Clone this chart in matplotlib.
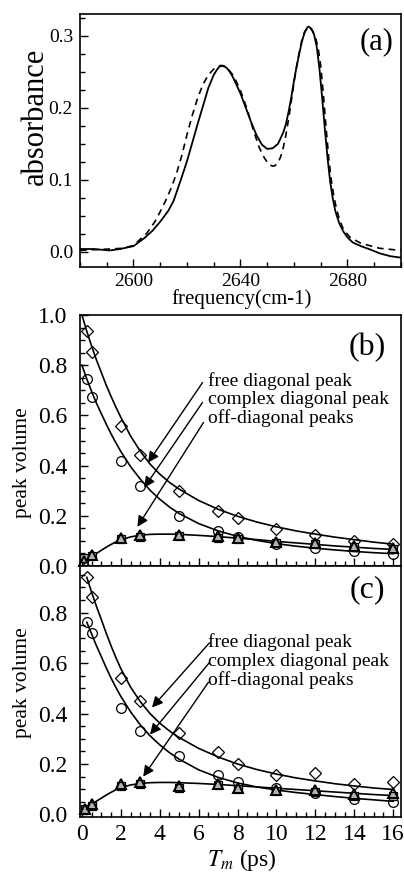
import matplotlib
matplotlib.use("Agg")
import matplotlib.pyplot as plt
from matplotlib.ticker import MultipleLocator

plt.rcParams['font.family'] = ['Liberation Serif', 'DejaVu Serif']
plt.rcParams['mathtext.fontset'] = 'stix'

# ---------------- panel (a): spectra ----------------
freq_solid = [2580, 2585, 2591, 2595, 2600, 2604, 2607, 2610, 2613, 2615, 2617.5, 2620, 2622, 2624,
              2626, 2628, 2630, 2631, 2632, 2633, 2634, 2635, 2636, 2637, 2638, 2640, 2642, 2644,
              2646, 2648, 2650, 2652, 2654, 2656, 2657, 2658, 2659, 2660, 2661, 2662, 2663, 2664,
              2665, 2665.5, 2666.5, 2667.5, 2668.5, 2669.5, 2670.5, 2671.5, 2672.5, 2673.5, 2674.5,
              2675.5, 2677, 2678.5, 2680, 2682, 2685, 2688, 2692, 2696, 2700]
abs_solid = [0.004, 0.004, 0.002, 0.004, 0.008, 0.019, 0.029, 0.042, 0.057, 0.071, 0.098, 0.126,
             0.152, 0.178, 0.203, 0.228, 0.246, 0.252, 0.257, 0.259, 0.258, 0.255, 0.250, 0.244,
             0.236, 0.220, 0.200, 0.180, 0.162, 0.149, 0.143, 0.144, 0.150, 0.166, 0.178, 0.195,
             0.215, 0.238, 0.258, 0.276, 0.293, 0.305, 0.312, 0.313, 0.310, 0.302, 0.285, 0.255,
             0.215, 0.172, 0.132, 0.098, 0.074, 0.056, 0.039, 0.028, 0.020, 0.013, 0.008, 0.004,
             -0.002, -0.006, -0.008]
freq_dash = [2580, 2585, 2591, 2596, 2600, 2605, 2608, 2610, 2612, 2614, 2616, 2618, 2620, 2622,
             2624, 2626, 2628, 2630, 2632.5, 2635, 2637.5, 2640, 2642.5, 2645, 2647, 2649, 2650.5,
             2652, 2653, 2654, 2655, 2656, 2657, 2658, 2659, 2660, 2661, 2662, 2663, 2664, 2665.5,
             2667, 2668, 2669, 2670, 2671, 2672, 2673, 2674, 2675, 2676, 2677, 2678.5, 2681, 2685,
             2692, 2700]
abs_dash = [0.002, 0.003, 0.004, 0.005, 0.009, 0.026, 0.042, 0.056, 0.071, 0.088, 0.108, 0.133,
            0.163, 0.190, 0.214, 0.233, 0.246, 0.254, 0.259, 0.256, 0.244, 0.224, 0.198, 0.167,
            0.145, 0.130, 0.122, 0.119, 0.120, 0.124, 0.132, 0.145, 0.163, 0.185, 0.210, 0.235,
            0.258, 0.278, 0.295, 0.306, 0.313, 0.307, 0.298, 0.284, 0.258, 0.218, 0.172, 0.130,
            0.098, 0.075, 0.058, 0.045, 0.031, 0.020, 0.012, 0.005, 0.002]

# ---------------- panel (b) ----------------
t_main = [0.25, 0.5, 2, 3, 5, 7, 8, 10, 12, 14, 16]
b_free = [0.937, 0.853, 0.557, 0.441, 0.297, 0.220, 0.191, 0.148, 0.125, 0.100, 0.088]
b_complex = [0.747, 0.673, 0.420, 0.317, 0.200, 0.140, 0.117, 0.087, 0.072, 0.058, 0.048]
t_off = [0.1, 0.5, 2, 3, 5, 7, 8, 10, 12, 14, 16]
b_off_tri = [0.020, 0.044, 0.111, 0.122, 0.125, 0.118, 0.111, 0.095, 0.092, 0.080, 0.070]
b_off_sq = [0.030, 0.040, 0.107, 0.117, 0.121, 0.112, 0.107, 0.090, 0.086, 0.075, 0.066]

t_fit = [0, 0.25, 0.5, 0.75, 1, 1.25, 1.5, 1.75, 2, 2.5, 3, 3.5, 4, 4.5, 5, 6, 7, 8, 9, 10, 11, 12,
         13, 14, 15, 16]
b_fit_free = [1.000, 0.935, 0.875, 0.820, 0.770, 0.720, 0.675, 0.632, 0.592, 0.518, 0.457, 0.406,
              0.366, 0.333, 0.306, 0.261, 0.226, 0.198, 0.175, 0.156, 0.140, 0.127, 0.115, 0.105,
              0.095, 0.087]
b_fit_complex = [0.800, 0.745, 0.695, 0.648, 0.606, 0.565, 0.526, 0.490, 0.456, 0.396, 0.346,
                 0.302, 0.266, 0.235, 0.209, 0.169, 0.140, 0.118, 0.102, 0.089, 0.079, 0.071,
                 0.064, 0.058, 0.053, 0.049]
b_fit_off = [0.000, 0.018, 0.035, 0.050, 0.063, 0.075, 0.086, 0.096, 0.104, 0.116, 0.123, 0.126,
             0.127, 0.127, 0.126, 0.122, 0.117, 0.111, 0.105, 0.098, 0.092, 0.086, 0.080, 0.075,
             0.070, 0.066]

# ---------------- panel (c) ----------------
c_free = [0.940, 0.864, 0.540, 0.451, 0.322, 0.246, 0.200, 0.158, 0.163, 0.120, 0.127]
c_complex = [0.764, 0.720, 0.421, 0.332, 0.230, 0.158, 0.130, 0.103, 0.085, 0.062, 0.050]
t_off_c = [0.15, 0.5, 2, 3, 5, 7, 8, 10, 12, 14, 16]
c_off_tri = [0.022, 0.042, 0.119, 0.127, 0.112, 0.122, 0.105, 0.099, 0.098, 0.080, 0.087]
c_off_sq = [0.020, 0.035, 0.112, 0.120, 0.106, 0.116, 0.100, 0.092, 0.088, 0.074, 0.072]

t_fit_c = [0.25, 0.5, 0.75, 1, 1.25, 1.5, 1.75, 2, 2.5, 3, 3.5, 4, 4.5, 5, 6, 7, 8, 9, 10, 11, 12,
           13, 14, 15, 16]
c_fit_free = [0.940, 0.880, 0.824, 0.772, 0.718, 0.668, 0.621, 0.578, 0.505, 0.447, 0.400, 0.362,
              0.331, 0.305, 0.262, 0.228, 0.200, 0.178, 0.160, 0.145, 0.133, 0.122, 0.113, 0.105,
              0.099]
c_fit_complex = [0.762, 0.715, 0.668, 0.625, 0.581, 0.540, 0.503, 0.468, 0.407, 0.355, 0.312,
                 0.276, 0.245, 0.219, 0.177, 0.147, 0.125, 0.109, 0.097, 0.087, 0.079, 0.071,
                 0.064, 0.058, 0.052]
t_fit_c_off = [0, 0.25, 0.5, 0.75, 1, 1.25, 1.5, 1.75, 2, 2.5, 3, 3.5, 4, 4.5, 5, 6, 7, 8, 9, 10,
               11, 12, 13, 14, 15, 16]
c_fit_off = [0.010, 0.025, 0.040, 0.053, 0.065, 0.077, 0.088, 0.098, 0.106, 0.117, 0.123, 0.126,
             0.127, 0.127, 0.126, 0.123, 0.119, 0.114, 0.109, 0.104, 0.099, 0.094, 0.089, 0.084,
             0.079, 0.075]

labels = ["free diagonal peak", "complex diagonal peak", "off-diagonal peaks"]

W, H = 404, 873
fig = plt.figure(figsize=(W / 100, H / 100), dpi=100)


def rect(l, t, r, b):
    return [l / W, 1 - b / H, (r - l) / W, (b - t) / H]


def style(ax, size=15, ypad=4, xpad=4):
    for s in ax.spines.values():
        s.set_linewidth(1.2)
    ax.tick_params(which='both', direction='in', top=False, right=False,
                   labelsize=size, width=1.0)
    ax.tick_params(which='major', length=6)
    ax.tick_params(which='minor', length=3.5)
    ax.tick_params(axis='y', pad=ypad)
    ax.tick_params(axis='x', pad=xpad)


# panel a
axa = fig.add_axes(rect(80, 14, 401, 267))
axa.plot(freq_solid, abs_solid, color='k', lw=1.3)
axa.plot(freq_dash, abs_dash, color='k', lw=1.2, ls=(0, (4, 3)))
axa.set_xlim(2580, 2700)
axa.set_ylim(-0.021, 0.3305)
axa.xaxis.set_major_locator(MultipleLocator(40))
axa.xaxis.set_minor_locator(MultipleLocator(10))
axa.yaxis.set_major_locator(MultipleLocator(0.1))
axa.yaxis.set_minor_locator(MultipleLocator(0.025))
style(axa, size=14, ypad=5, xpad=4)
axa.set_yticks([0.0, 0.1, 0.2, 0.3])
axa.set_yticklabels(['0.0', '0.1', '0.2', '0.3'])
axa.text(0.925, 0.89, '(a)', transform=axa.transAxes, fontsize=22, ha='center', va='center')
fig.text(35 / W, 1 - 116 / H, 'absorbance', rotation=90, fontsize=22, ha='center', va='center')
fig.text(242 / W, 1 - 299 / H, 'frequency(cm-1)', fontsize=15, ha='center', va='center')


def kinetics(ax, t_m, free, comp, t_o, tri, sq, tf_free, f_free, f_comp, tf_off, f_off,
             ylim, txt_y, arrows):
    ax.plot(tf_free, f_free, color='k', lw=1.2)
    ax.plot(tf_free, f_comp, color='k', lw=1.2)
    ax.plot(tf_off, f_off, color='k', lw=1.2)
    ax.plot(t_m, free, ls='none', marker='D', ms=6, mfc='none', mec='k', mew=0.9, clip_on=False)
    ax.plot(t_m, comp, ls='none', marker='o', ms=7, mfc='none', mec='k', mew=0.9, clip_on=False)
    ax.plot(t_o, sq, ls='none', marker='s', ms=5.5, mfc='#b0b0b0', mec='k', mew=0.9, clip_on=False)
    ax.plot(t_o, tri, ls='none', marker='^', ms=7.5, mfc='none', mec='k', mew=1.4, clip_on=False)
    ax.set_xlim(-0.1, 16.4)
    ax.set_ylim(*ylim)
    ax.xaxis.set_major_locator(MultipleLocator(2))
    ax.xaxis.set_minor_locator(MultipleLocator(0.5))
    ax.yaxis.set_major_locator(MultipleLocator(0.2))
    ax.yaxis.set_minor_locator(MultipleLocator(0.05))
    style(ax, size=17, ypad=9, xpad=5)
    for lab, ty, (xs, ys, xe, ye) in zip(labels, txt_y, arrows):
        ax.text(6.5, ty, lab, fontsize=14, ha='left', va='center')
        ax.annotate('', xy=(xe, ye), xytext=(xs, ys),
                    arrowprops=dict(arrowstyle='-|>', color='k', lw=1.0,
                                    mutation_scale=16, shrinkA=0, shrinkB=0))


axb = fig.add_axes(rect(80, 315, 401, 566))
kinetics(axb, t_main, b_free, b_complex, t_off, b_off_tri, b_off_sq,
         t_fit, b_fit_free, b_fit_complex, t_fit, b_fit_off,
         (0, 1.0), [0.738, 0.664, 0.588],
         [(6.2, 0.731, 3.4, 0.412), (6.2, 0.652, 3.2, 0.312), (6.25, 0.572, 2.85, 0.156)])
axb.set_yticks([0.0, 0.2, 0.4, 0.6, 0.8, 1.0])
axb.set_yticklabels(['0.0', '0.2', '0.4', '0.6', '0.8', '1.0'])
axb.tick_params(labelbottom=False)
axb.text(0.895, 0.87, '(b)', transform=axb.transAxes, fontsize=23, ha='center', va='center')
fig.text(23 / W, 1 - 463 / H, 'peak volume', rotation=90, fontsize=15.5, ha='center', va='center')

axc = fig.add_axes(rect(80, 566, 401, 817))
kinetics(axc, t_main, c_free, c_complex, t_off_c, c_off_tri, c_off_sq,
         t_fit_c, c_fit_free, c_fit_complex, t_fit_c_off, c_fit_off,
         (-0.01, 0.985), [0.685, 0.608, 0.531],
         [(6.55, 0.68, 3.6, 0.424), (6.55, 0.602, 3.5, 0.317), (6.5, 0.524, 3.15, 0.15)])
axc.set_yticks([0.0, 0.2, 0.4, 0.6, 0.8])
axc.set_yticklabels(['0.0', '0.2', '0.4', '0.6', '0.8'])
axc.set_xticks(range(0, 17, 2))
axc.set_xticklabels([str(v) for v in range(0, 17, 2)])
axc.text(0.895, 0.905, '(c)', transform=axc.transAxes, fontsize=23, ha='center', va='center')
fig.text(23 / W, 1 - 683 / H, 'peak volume', rotation=90, fontsize=15.5, ha='center', va='center')
fig.text(242 / W, 1 - 860 / H, r'$T_m$ (ps)', fontsize=17, ha='center', va='center')

fig.savefig('out.png', dpi=100)
